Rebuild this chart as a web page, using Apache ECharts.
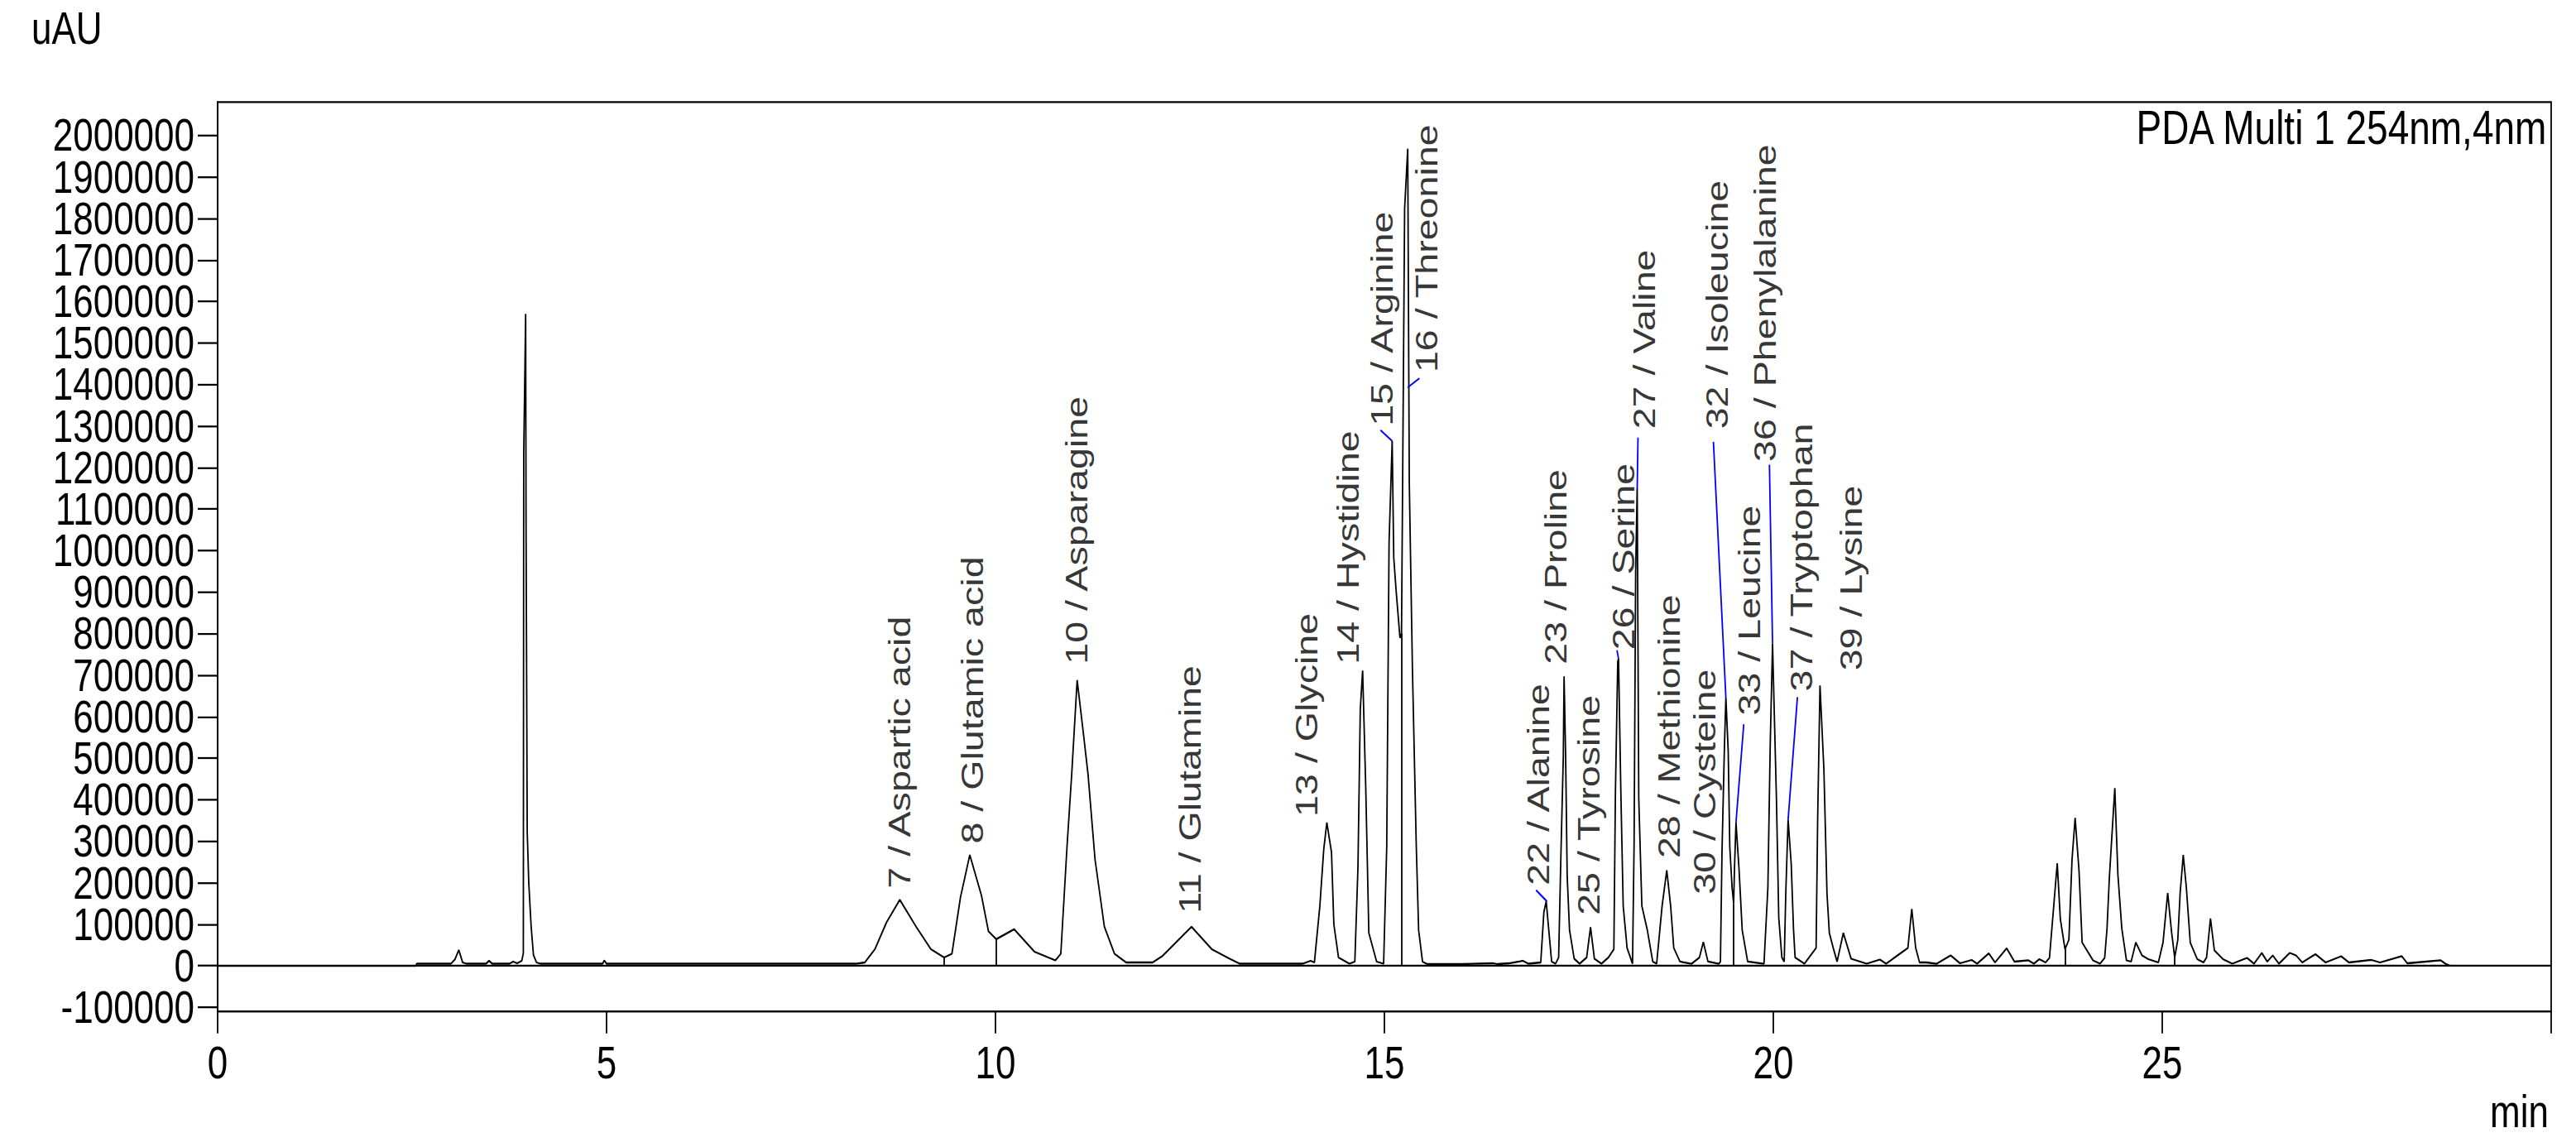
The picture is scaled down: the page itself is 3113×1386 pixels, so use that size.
<!DOCTYPE html>
<html>
<head>
    <meta charset="UTF-8">
    <title>PDA Multi 1 254nm,4nm</title>
    <script src="https://cdn.jsdelivr.net/npm/echarts/dist/echarts.min.js"></script>
    <style>
        html, body { margin: 0; padding: 0; background: #fff; }
        body { width: 3113px; height: 1386px; position: relative; }
        /* the original print is stretched vertically, so draw at 1100px and stretch */
        #main { position: absolute; left: 0; top: 0; width: 3113px; height: 1100px; transform: scaleY(1.26); transform-origin: 0 0; }
    </style>
</head>
<body>
<div id="main"></div>
<script type="text/javascript">
    // chromatogram trace (time in min, signal in uAU)
    var traceTime = [
        0, 2.55, 2.56, 3.0, 3.05, 3.10, 3.15, 3.2, 3.45, 3.49, 3.53, 3.75, 3.80, 3.85, 3.91, 3.93,
        3.935, 3.96, 3.965, 3.98, 4.00, 4.03, 4.06, 4.10, 4.15, 4.95, 4.97, 5.0,
        8.2, 8.32, 8.45, 8.60, 8.77, 8.98, 9.17, 9.34, 9.44, 9.55, 9.67, 9.82, 9.91, 10.01,
        10.24, 10.50, 10.77, 10.84, 10.92, 10.98, 11.05, 11.13, 11.19, 11.28, 11.40, 11.53, 11.68,
        12.02, 12.15, 12.29, 12.52, 12.78, 13.0, 13.14,
        13.95, 14.05, 14.10, 14.17, 14.22, 14.26, 14.32, 14.35, 14.41, 14.55,
        14.62, 14.66, 14.69, 14.72, 14.76, 14.80, 14.90, 14.99,
        15.03, 15.06, 15.10, 15.12, 15.15, 15.20, 15.22, 15.26, 15.30, 15.32, 15.36, 15.41, 15.44, 15.49, 15.55,
        16.0, 16.4, 16.45, 16.6, 16.73, 16.78, 16.85,
        17.01, 17.05, 17.08, 17.12, 17.15, 17.20, 17.24, 17.27, 17.30, 17.31, 17.33, 17.35, 17.38, 17.44, 17.51,
        17.60, 17.65, 17.70, 17.79, 17.88, 17.95, 17.97, 18.00, 18.01, 18.04, 18.07, 18.12, 18.19,
        18.21, 18.23, 18.25, 18.27, 18.31, 18.38, 18.45, 18.50, 18.57, 18.63, 18.68, 18.72, 18.80, 18.95,
        19.05, 19.10, 19.16, 19.30, 19.32, 19.34, 19.37, 19.39, 19.42, 19.44, 19.47, 19.49,
        19.50, 19.52, 19.56, 19.60, 19.67, 19.88, 19.93, 19.96, 19.99, 20.04, 20.07, 20.11, 20.14,
        20.16, 20.19, 20.23, 20.26, 20.28, 20.40, 20.55, 20.57, 20.60, 20.65, 20.69, 20.72, 20.77, 20.82,
        20.90, 21.0, 21.2, 21.37, 21.45, 21.73, 21.78, 21.83, 21.88, 21.97, 22.1, 22.28, 22.40, 22.55, 22.62,
        22.77, 22.85, 23.0, 23.1, 23.28, 23.35, 23.42, 23.50, 23.55, 23.60, 23.65, 23.69, 23.75,
        23.80, 23.84, 23.88, 23.93, 23.97, 24.11, 24.20, 24.26, 24.29, 24.32, 24.39, 24.43, 24.48, 24.54,
        24.60, 24.66, 24.74, 24.82, 24.95, 25.01, 25.07, 25.12, 25.16, 25.20, 25.23, 25.27, 25.31, 25.36,
        25.45, 25.53, 25.57, 25.62, 25.67, 25.78, 25.90, 26.09, 26.18, 26.28, 26.35, 26.42, 26.50,
        26.64, 26.72, 26.80, 26.97, 27.10, 27.30, 27.40, 27.69, 27.80, 28.08, 28.15, 28.58, 28.64, 28.70
    ];
    var traceValue = [
        0, 0, 5000, 5000, 15000, 38000, 8000, 5000, 5000, 12000, 5000, 5000, 10000, 6000, 12000, 30000,
        1230000, 1570000, 1065000, 323000, 200000, 96000, 26000, 8000, 5000, 5000, 13000, 5000,
        5000, 8000, 40000, 105000, 159000, 94000, 40000, 20000, 29000, 165000, 267000, 169000, 83000, 64000,
        88000, 34000, 13000, 29000, 288000, 461000, 688000, 560000, 461000, 256000, 94000, 29000, 8000,
        8000, 24000, 50600, 94000, 40000, 18000, 5000,
        5000, 12000, 8000, 143700, 280000, 345000, 273000, 100000, 20000, 5000,
        10000, 237000, 618000, 711000, 431000, 79000, 10000, 5000,
        287000, 1020000, 1264000, 984000, 905000, 790000, 800000, 1824000, 1968000, 1164000, 718000, 287000, 86000, 10000, 4000,
        4000, 6000, 4000, 6000, 10000, 12000, 5000,
        8000, 129000, 155000, 72000, 10000, 5000, 20000, 273000, 503000, 697000, 503000, 215000, 86000, 17000, 5000,
        20000, 93000, 17000, 5000, 20000, 40000, 417000, 733000, 740000, 417000, 144000, 43000, 5000,
        294000, 948000, 1150000, 402000, 144000, 86000, 10000, 5000, 144000, 230000, 144000, 43000, 10000, 5000,
        20000, 57000, 10000, 5000, 10000, 273000, 517000, 646000, 517000, 287000, 188000, 150000,
        230000, 345000, 230000, 86000, 10000, 5000, 188000, 531000, 776000, 402000, 115000, 20000, 10000,
        174000, 352000, 245000, 86000, 20000, 5000, 43000, 355000, 675000, 474000, 174000, 79000, 43000, 10000,
        79000, 17000, 5000, 15000, 5000, 43000, 137000, 43000, 8000, 8000, 5000, 25000, 6000, 14000, 5000,
        30000, 8000, 42000, 10000, 13000, 5000, 16000, 8000, 19000, 133000, 247000, 112000, 40000,
        63000, 256000, 356000, 229000, 56000, 13000, 5000, 19000, 90000, 212000, 428000, 219000, 90000, 13000,
        10000, 56000, 25000, 16000, 8000, 56000, 175000, 81000, 20000, 63000, 175000, 267000, 188000, 56000,
        16000, 8000, 20000, 114000, 37000, 16000, 5000, 19000, 5000, 31000, 10000, 25000, 5000,
        31000, 25000, 8000, 28000, 8000, 23000, 8000, 14000, 8000, 23000, 6000, 13000, 5000, 0
    ];

    // integration drop lines: time and height at the valley
    var dropTime = [9.34, 10.01, 15.22, 19.49, 23.75, 25.16];
    var dropTop = [20000, 64000, 800000, 150000, 40000, 20000];

    // peak names
    var peakNames = [
        '7 / Aspartic acid', '8 / Glutamic acid', '10 / Asparagine', '11 / Glutamine',
        '13 / Glycine', '14 / Hystidine', '15 / Arginine', '16 / Threonine',
        '22 / Alanine', '23 / Proline', '25 / Tyrosine', '26 / Serine', '27 / Valine',
        '28 / Methionine', '30 / Cysteine', '32 / Isoleucine', '33 / Leucine',
        '36 / Phenylalanine', '37 / Tryptophan', '39 / Lysine'
    ];

    var yTickValues = [];
    for (var k = -100000; k <= 2000000; k += 100000) yTickValues.push(k);
    var xTickLabels = [0, 5, 10, 15, 20, 25];

    // where each label starts (text reads bottom to top), in axis units
    var labelAnchor = [
        [8.77, 186000], [9.70, 294000], [11.05, 726000], [12.50, 126000],
        [14.00, 359000], [14.53, 726000], [14.97, 1300000], [15.54, 1429000],
        [16.98, 194000], [17.21, 726000], [17.63, 122000], [18.08, 761000], [18.34, 1293000],
        [18.66, 259000], [19.12, 172000], [19.28, 1293000], [19.69, 603000],
        [19.90, 1214000], [20.36, 661000], [21.00, 711000]
    ];
    // blue leader lines from peak top to displaced label
    var leaders = [
        [[15.10, 1264000], [14.95, 1290000]],
        [[15.30, 1393000], [15.45, 1415000]],
        [[17.09, 155000], [16.95, 182000]],
        [[18.01, 740000], [17.99, 760000]],
        [[18.25, 1150000], [18.26, 1272000]],
        [[19.39, 646000], [19.23, 1262000]],
        [[19.52, 345000], [19.62, 582000]],
        [[19.99, 776000], [19.95, 1207000]],
        [[20.19, 352000], [20.31, 647000]]
    ];

    var font = '"Liberation Sans", Arial, sans-serif';

    var trace = traceTime.map(function (t, i) { return [t, traceValue[i]]; });
    var drops = dropTime.map(function (t, i) { return {coords: [[t, 0], [t, dropTop[i]]]}; });
    var labels = peakNames.map(function (n, i) { return {name: n, value: labelAnchor[i]}; });
    var leaderData = leaders.map(function (c) { return {coords: c}; });

    // labels sit tighter than their boxes, so split them over two stacked
    // axes (odd / even hundred-thousands) to keep echarts from dropping any
    var yLabelsA = yTickValues.filter(function (v, i) { return i % 2 === 0; });
    var yLabelsB = yTickValues.filter(function (v, i) { return i % 2 === 1; });

    var yLabelStyle = {
        margin: 28, color: '#000', fontFamily: font, fontSize: 44,
        showMinLabel: true, showMaxLabel: true, hideOverlap: false,
        formatter: function (v) { return String(v); }
    };

    var myChart = echarts.init(document.getElementById('main'), null, {renderer: 'svg'});

    var option = {
        animation: false,
        backgroundColor: '#fff',
        grid: {
            left: 263, right: 30, top: 98, bottom: 130,
            show: true, borderColor: '#000', borderWidth: 1.8
        },
        xAxis: {
            type: 'value', min: 0, max: 30, interval: 5,
            axisLine: {show: true, onZero: false, lineStyle: {color: '#000', width: 1.8}},
            axisTick: {show: true, length: 21, lineStyle: {color: '#000', width: 1.8}},
            axisLabel: {
                margin: 29, color: '#000', fontFamily: font, fontSize: 44, lineHeight: 40,
                customValues: xTickLabels
            },
            splitLine: {show: false}
        },
        yAxis: [
            {
                type: 'value', min: -110000, max: 2080000, position: 'left',
                axisLine: {show: true, onZero: false, lineStyle: {color: '#000', width: 1.8}},
                axisTick: {show: true, length: 24, lineStyle: {color: '#000', width: 1.8}, customValues: yTickValues},
                axisLabel: Object.assign({customValues: yLabelsA}, yLabelStyle),
                splitLine: {show: false}
            },
            {
                type: 'value', min: -110000, max: 2080000, position: 'left', offset: 0,
                axisLine: {show: false, onZero: false},
                axisTick: {show: false},
                axisLabel: Object.assign({customValues: yLabelsB}, yLabelStyle),
                splitLine: {show: false}
            }
        ],
        graphic: [
            {type: 'text', left: 38, top: 5, style: {text: 'uAU', fontFamily: font, fontSize: 44, lineHeight: 44, fill: '#000'}},
            {type: 'text', right: 33, top: 99, style: {text: 'PDA Multi 1 254nm,4nm', fontFamily: font, fontSize: 46, lineHeight: 46, fill: '#000'}},
            {type: 'text', right: 33, top: 1044, style: {text: 'min', fontFamily: font, fontSize: 44, lineHeight: 44, fill: '#000'}}
        ],
        series: [
            {
                name: 'PDA',
                type: 'line',
                data: trace,
                showSymbol: false,
                lineStyle: {color: '#000', width: 1.8},
                z: 3,
                markLine: {
                    silent: true, symbol: 'none', label: {show: false},
                    lineStyle: {color: '#000', width: 1.8, type: 'solid'},
                    data: [{yAxis: 0}]
                }
            },
            {
                type: 'lines', coordinateSystem: 'cartesian2d',
                data: drops,
                lineStyle: {color: '#000', width: 1.8, opacity: 1},
                z: 3
            },
            {
                type: 'lines', coordinateSystem: 'cartesian2d',
                data: leaderData,
                lineStyle: {color: '#0000ff', width: 1.8, opacity: 1},
                z: 4
            },
            {
                type: 'scatter',
                data: labels,
                symbolSize: 1,
                itemStyle: {color: 'rgba(0,0,0,0)'},
                z: 5,
                label: {
                    show: true, formatter: '{b}', position: 'inside',
                    rotate: 90, align: 'left', verticalAlign: 'middle',
                    color: '#000', fontFamily: font, fontSize: 37
                }
            }
        ]
    };

    myChart.setOption(option);
</script>
</body>
</html>
